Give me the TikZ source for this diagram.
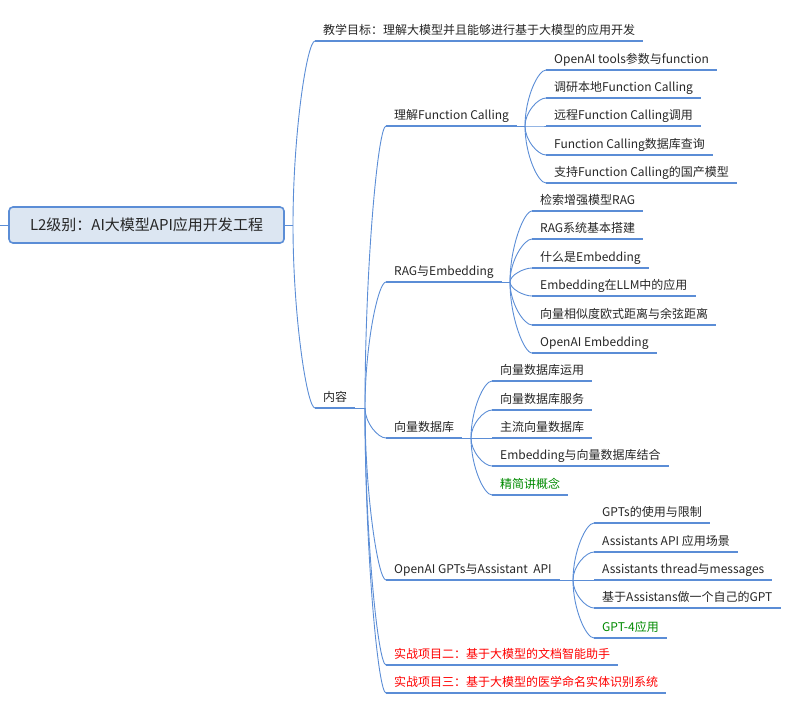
\documentclass[tikz,border=0pt]{standalone}
\usepackage{fontspec}
\usepackage{tikz}
\usetikzlibrary{calc, positioning}
\newfontfamily\cjk{Noto Sans CJK SC}
\definecolor{LineBlue}{HTML}{5B8DD6}
\definecolor{RootFill}{HTML}{DCE6F2}
\definecolor{TextGray}{HTML}{262626}
\definecolor{TaskRed}{HTML}{FF0000}
\definecolor{NoteGreen}{HTML}{008A00}

\begin{document}
\begin{tikzpicture}[x=1pt, y=-1pt,
  root_node/.style={draw=LineBlue, line width=1.6pt, fill=RootFill, rounded corners=4pt,
    minimum width=275pt, minimum height=36pt, text=TextGray, font=\cjk\fontsize{15}{18}\selectfont},
  topic/.style={anchor=south west, inner xsep=8pt, inner ysep=3.5pt, text height=9pt,
    text depth=3pt, text=TextGray, font=\cjk\fontsize{12}{14}\selectfont},
  red_topic/.style={topic, text=TaskRed},
  green_topic/.style={topic, text=NoteGreen},
  uline/.style={LineBlue, line width=2.6pt},
  link/.style={LineBlue, line width=0.9pt},
  branch/.style={link, to path={.. controls ($(\tikztostart)!0.5!(\tikztostart|-\tikztotarget)$)
    and ($(\tikztotarget)+(-8pt,0pt)$) .. (\tikztotarget)}}
]
  \useasboundingbox (0,0) rectangle (791,710);

  \node[root_node] (root) at (146.5,225) {L2级别：AI大模型API应用开发工程};
  \coordinate (lstub) at (0,225);
  \coordinate (rj) at (293,225);

  \node[topic] (goal) at (315,41) {教学目标：理解大模型并且能够进行基于大模型的应用开发};
  \node[topic] (content) at (315,408) {内容};
  \coordinate (cj) at (365,408);

  \node[topic] (fc) at (386,126) {理解Function Calling};
  \node[topic] (rag) at (386,282) {RAG与Embedding};
  \node[topic] (vdb) at (386,438) {向量数据库};
  \node[topic] (gpts) at (386,580) {OpenAI GPTs与Assistant\ \ API};
  \node[red_topic] (projA) at (386,665) {实战项目二：基于大模型的文档智能助手};
  \node[red_topic] (projB) at (386,693) {实战项目三：基于大模型的医学命名实体识别系统};

  \coordinate (fcj) at (525,126);
  \node[topic] (fc1) at (546,70) {OpenAI tools参数与function};
  \node[topic] (fc2) at (546,98) {调研本地Function Calling};
  \node[topic] (fc3) at (546,126) {远程Function Calling调用};
  \node[topic] (fc4) at (546,155) {Function Calling数据库查询};
  \node[topic] (fc5) at (546,183) {支持Function Calling的国产模型};

  \coordinate (ragj) at (510,282);
  \node[topic] (rag1) at (532,211) {检索增强模型RAG};
  \node[topic] (rag2) at (532,239) {RAG系统基本搭建};
  \node[topic] (rag3) at (532,268) {什么是Embedding};
  \node[topic] (rag4) at (532,296) {Embedding在LLM中的应用};
  \node[topic] (rag5) at (532,325) {向量相似度欧式距离与余弦距离};
  \node[topic] (rag6) at (532,353) {OpenAI Embedding};

  \coordinate (vdbj) at (471,438);
  \node[topic] (vdb1) at (492,381) {向量数据库运用};
  \node[topic] (vdb2) at (492,410) {向量数据库服务};
  \node[topic] (vdb3) at (492,438) {主流向量数据库};
  \node[topic] (vdb4) at (492,466) {Embedding与向量数据库结合};
  \node[green_topic] (vdb5) at (492,495) {精简讲概念};

  \coordinate (gptsj) at (573,580);
  \node[topic] (gpts1) at (594,523) {GPTs的使用与限制};
  \node[topic] (gpts2) at (594,552) {Assistants API 应用场景};
  \node[topic] (gpts3) at (594,580) {Assistants thread与messages};
  \node[topic] (gpts4) at (594,608) {基于Assistans做一个自己的GPT};
  \node[green_topic] (gpts5) at (594,638) {GPT-4应用};

  \draw[link] (lstub) -- (root.west);
  \draw[link] (root.east) -- (rj);
  \draw[branch] (rj) to (goal.south west);
  \draw[branch] (rj) to (content.south west);

  \draw[link] (content.south east) -- (cj);
  \foreach \n in {fc, rag, vdb, gpts, projA, projB}
    \draw[branch] (cj) to (\n.south west);

  \draw[link] (fc.south east) -- (fcj);
  \foreach \i in {1,...,5}
    \draw[branch] (fcj) to (fc\i.south west);
  \draw[link] (rag.south east) -- (ragj);
  \foreach \i in {1,...,6}
    \draw[branch] (ragj) to (rag\i.south west);
  \draw[link] (vdb.south east) -- (vdbj);
  \foreach \i in {1,...,5}
    \draw[branch] (vdbj) to (vdb\i.south west);
  \draw[link] (gpts.south east) -- (gptsj);
  \foreach \i in {1,...,5}
    \draw[branch] (gptsj) to (gpts\i.south west);

  \foreach \n in {goal, content, fc, rag, vdb, gpts, projA, projB, fc1, fc2, fc3, fc4, fc5,
      rag1, rag2, rag3, rag4, rag5, rag6, vdb1, vdb2, vdb3, vdb4, vdb5,
      gpts1, gpts2, gpts3, gpts4, gpts5}
    \draw[uline] (\n.south west) -- (\n.south east);

\end{tikzpicture}
\end{document}
